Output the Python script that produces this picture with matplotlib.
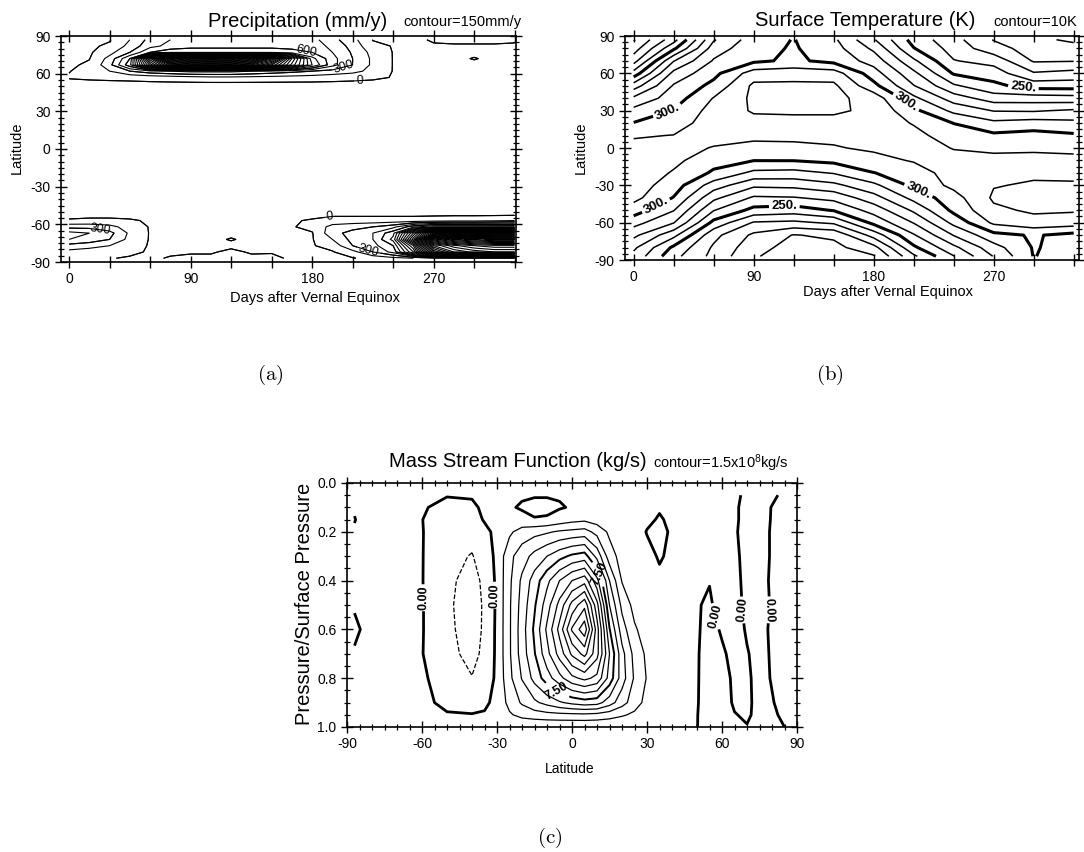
import numpy as np
import matplotlib
matplotlib.use("Agg")
import matplotlib.pyplot as plt
from matplotlib.ticker import MultipleLocator

plt.rcParams['font.family'] = ['Liberation Sans', 'DejaVu Sans']
plt.rcParams['mathtext.fontset'] = 'cm'
plt.rcParams['mathtext.default'] = 'regular'
plt.rcParams['axes.unicode_minus'] = False

# ---------------- (a) precipitation, mm/y ----------------
precip_days = [0, 15, 30, 45, 60, 75, 90, 105, 120, 135, 150, 165, 180, 195, 210, 225, 240, 255, 270, 285, 300, 315, 330]
precip_lats = [-87, -82, -77, -72, -67, -62, -57, -52, 52, 57, 62, 67, 72, 77, 82, 87]
pr_s87 = [20, 10, 5, -10, -10, 5, 10, 10, 10, 10, 15, -10, -10, -10, -10, 50, 100, 150, 200, 200, 200, 200, 200]
pr_s82 = [100, 80, 60, 20, -10, -10, -5, -5, 10, -5, -5, -10, -10, -10, 100, 300, 500, 1200, 3000, 3600, 3800, 3900, 3900]
pr_s77 = [250, 200, 150, 50, -10, -10, -10, -10, -10, -10, -10, -10, -10, 50, 300, 400, 600, 1500, 3600, 4000, 4200, 4300, 4300]
pr_s72 = [450, 400, 300, 100, -10, -10, -10, -10, 3, -10, -10, -10, -10, 150, 350, 450, 800, 2200, 4600, 5000, 5200, 5300, 5300]
pr_s67 = [500, 450, 350, 120, -10, -10, -10, -10, -10, -10, -10, -10, -10, 250, 350, 450, 700, 1800, 3000, 3200, 3300, 3400, 3400]
pr_s62 = [250, 250, 200, 80, -10, -10, -10, -10, -10, -10, -10, -10, 40, 200, 250, 300, 400, 700, 900, 900, 900, 900, 900]
pr_s57 = [10, 20, 20, 10, -10, -10, -10, -10, -10, -10, -10, -10, 10, 60, 60, 60, 60, 60, 80, 100, 100, 120, 150]
pr_s52 = [-30] * 23
pr_n52 = [-30] * 23
pr_n57 = [8, 20, 30, 40, 60, 80, 100, 120, 120, 110, 100, 90, 80, 60, 40, 20, -5, -20, -20, -20, -20, -20, -20]
pr_n62 = [-4, 40, 150, 300, 400, 450, 500, 500, 500, 450, 400, 350, 300, 250, 200, 100, -5, -20, -20, -20, -20, -20, -20]
pr_n67 = [-20, 20, 250, 700, 2000, 3000, 3200, 3300, 3200, 3000, 2400, 1600, 900, 500, 300, 120, -5, -20, -20, -20, -20, -20, -20]
pr_n72 = [-20, -5, 200, 600, 2500, 4200, 4600, 4700, 4600, 4200, 3200, 1800, 800, 500, 300, 120, -5, -20, -20, -20, 5, -20, -20]
pr_n77 = [-20, -20, 100, 300, 600, 700, 700, 700, 700, 700, 700, 650, 600, 450, 280, 100, -5, -20, -20, -20, -20, -20, -20]
pr_n82 = [-20, -20, 20, 200, 400, 500, 550, 550, 550, 550, 550, 550, 550, 400, 250, 30, -5, -20, -10, -10, -10, -10, -10]
pr_n87 = [-20, -20, -10, 150, 350, 450, 500, 500, 500, 500, 500, 500, 500, 350, 200, -5, -10, -20, 10, 20, 20, 20, 10]
precip = np.array([pr_s87, pr_s82, pr_s77, pr_s72, pr_s67, pr_s62, pr_s57, pr_s52,
                   pr_n52, pr_n57, pr_n62, pr_n67, pr_n72, pr_n77, pr_n82, pr_n87], dtype=float)
precip_levels = list(range(0, 5400, 150))
precip_label_levels = [0, 300, 600]

# ---------------- (b) surface temperature, K ----------------
temp_days = [0, 30, 60, 90, 120, 150, 180, 210, 240, 270, 300, 330]
temp_lats = [-87, -80, -70, -60, -50, -40, -30, -20, -10, 0, 10, 20, 30, 40, 50, 60, 70, 80, 87]
t_s87 = [267, 243, 227, 211, 205, 205.5, 209, 238, 259.5, 280.5, 300.4, 295]
t_s80 = [272, 248, 228.5, 214, 206, 207, 216.5, 248, 267.5, 286, 300.8, 296]
t_s70 = [282.6, 263, 233, 218, 209.5, 212, 234, 259, 280.5, 297, 301, 297]
t_s60 = [293.8, 280.5, 247, 229, 227.7, 231.7, 252.7, 270.5, 292.8, 312, 316.5, 315]
t_s50 = [305, 290.5, 260.5, 247, 245, 250.7, 264, 281.8, 302.5, 318, 321.5, 321]
t_s40 = [313, 299.5, 272.5, 258.5, 259.3, 263, 276, 293.2, 306, 321.5, 322.5, 322]
t_s30 = [315, 305, 285, 272, 272.7, 277.3, 287.6, 302.5, 312.5, 319.5, 321, 321]
t_s20 = [317, 309, 298.5, 287.5, 286.7, 290.7, 299.8, 304, 315.5, 318.5, 318.5, 318]
t_s10 = [316, 312.5, 303.5, 300.2, 300.3, 302.5, 306, 311, 313.5, 313, 314.5, 313]
t_eq = [313, 313, 309.5, 307.5, 307, 309, 312, 315, 309.5, 307.8, 307.5, 307.2]
t_n10 = [309, 310.3, 313, 312, 313, 313, 314, 313, 305, 302, 303.5, 301.5]
t_n20 = [300.4, 305, 315.5, 317, 317, 317, 316, 309.3, 299.8, 292.5, 294.5, 292.7]
t_n30 = [293, 300.5, 314, 321, 321.5, 321.5, 318, 302.5, 287.5, 279.5, 279, 281.5]
t_n40 = [282, 295, 310.5, 322, 323, 322.5, 316, 292.5, 275, 265, 265, 264]
t_n50 = [265, 291, 303, 322, 322, 322, 303, 280.5, 261.5, 252.5, 245.6, 245.5]
t_n60 = [244, 283, 297, 315, 316, 315, 294.5, 272.5, 249, 245, 231, 233.5]
t_n70 = [226, 269.5, 291, 298, 302, 297, 286, 262, 240.5, 236.5, 219, 219.5]
t_n80 = [215, 248, 285, 296.5, 301, 294, 278, 250.5, 236, 224, 215.5, 213]
t_n87 = [209, 236, 279, 295, 300.4, 292, 271, 246, 233.5, 219.5, 212, 208.5]
temp = np.array([t_s87, t_s80, t_s70, t_s60, t_s50, t_s40, t_s30, t_s20, t_s10, t_eq,
                 t_n10, t_n20, t_n30, t_n40, t_n50, t_n60, t_n70, t_n80, t_n87], dtype=float)
temp_thin_levels = [210, 220, 230, 240, 260, 270, 280, 290, 310, 320]
temp_bold_levels = [250, 300]

# ---------------- (c) mass stream function, 1e8 kg/s ----------------
psi_lats = [-87, -80, -70, -60, -50, -40, -35, -30, -25, -20, -15, -10, -5, 0, 5, 10, 15,
            20, 25, 30, 35, 40, 50, 55, 60, 65, 70, 75, 80, 87]
psi_p = [0.05, 0.1, 0.15, 0.2, 0.3, 0.4, 0.5, 0.6, 0.7, 0.8, 0.9, 0.95, 1.0]
psi_005 = [0.1, 0.1, 0.1, 0.1, 0.05, 0.05, 0.1] + [0.1] * 14 + [0.2, 0.2, 0.2, 0.2, 0.1, -0.1, -0.2, -0.1, 0.2]
psi_010 = [0.05, 0.2, 0.2, 0.1, -0.3, -0.1, 0.1] + [0.2, 0.1, -0.1, -0.4, -0.4, -0.1, 0.1, 0.15, 0.2, 0.2, 0.2, 0.2, 0.2, 0.1] + [0.2, 0.2, 0.2, 0.2, 0.05, -0.1, -0.2, 0.02, 0.2]
psi_015 = [-0.02, 0.3, 0.2, 0.02, -0.6, -0.5, 0.1] + [0.3, 0.4, 0.3, 0.1, 0.2, 0.6, 1.0, 1.2, 0.8, 0.5, 0.4, 0.4, 0.2, -0.1] + [0.2, 0.2, 0.2, 0.18, 0.05, -0.1, -0.2, 0.03, 0.2]
psi_020 = [0.05, 0.3, 0.2, 0.05, -0.8, -0.9, -0.3] + [0.3, 1.2, 2.2, 2.5, 2.8, 3.2, 3.4, 3.6, 2.5, 1.2, 0.6, 0.5, -0.05, -0.4] + [0.2, 0.2, 0.2, 0.15, 0.04, -0.12, -0.2, 0.05, 0.2]
psi_030 = [0.1, 0.3, 0.2, 0.05, -1.0, -1.6, -0.7] + [0.3, 2.6, 3.8, 5.0, 6.0, 7.0, 7.8, 8.2, 5.5, 2.2, 0.9, 0.6, 0.3, -0.1] + [0.2, 0.15, 0.15, 0.15, 0.08, -0.12, -0.2, 0.05, 0.2]
psi_040 = [0.1, 0.3, 0.2, 0.05, -1.2, -2.0, -1.2] + [0.3, 2.7, 4.8, 6.7, 8.6, 10.5, 12.0, 12.9, 9.5, 4.5, 1.4, 0.8, 0.5, 0.2] + [0.2, 0.02, 0.03, 0.1, 0.1, -0.1, -0.2, 0.08, 0.2]
psi_050 = [0.05, 0.3, 0.2, 0.08, -1.25, -2.2, -1.3] + [0.25, 2.8, 5.1, 7.3, 9.8, 12.5, 15.5, 17.6, 12.5, 6.0, 2.6, 1.0, 0.6, 0.3] + [0.2, 0.05, -0.1, 0.3, 0.15, -0.1, -0.2, 0.05, 0.2]
psi_060 = [-0.1, 0.2, 0.2, 0.08, -1.2, -2.1, -1.3] + [0.3, 2.8, 5.3, 7.8, 10.8, 14.0, 18.2, 20.5, 14.2, 7.6, 3.7, 1.7, 0.8, 0.5] + [0.2, 0.04, -0.12, 0.04, 0.2, -0.05, -0.2, 0.1, 0.2]
psi_070 = [0.05, 0.3, 0.2, 0.05, -1.1, -1.9, -1.2] + [0.3, 2.8, 5.2, 7.4, 10.0, 12.6, 15.3, 17.0, 14.0, 9.0, 5.0, 2.5, 1.2, 0.6] + [0.2, 0.03, -0.15, -0.05, 0.1, 0.03, -0.15, 0.05, 0.2]
psi_080 = [0.1, 0.3, 0.3, 0.25, -0.8, -1.45, -0.9] + [0.3, 2.6, 4.6, 6.5, 8.3, 10.0, 11.6, 12.4, 11.6, 8.4, 5.2, 2.8, 1.4, 0.6] + [0.2, 0.025, -0.15, -0.1, 0.05, 0.05, -0.1, 0.02, 0.2]
psi_090 = [0.1, 0.3, 0.3, 0.3, -0.3, -0.5, -0.2] + [0.3, 2.0, 3.2, 4.2, 5.0, 5.8, 6.4, 6.8, 6.6, 5.2, 3.6, 2.2, 1.0, 0.5] + [0.2, 0.02, -0.15, -0.1, 0.03, 0.05, -0.08, -0.02, 0.15]
psi_095 = [0.1, 0.2, 0.3, 0.3, 0.1, 0.05, 0.1] + [0.5, 1.3, 2.0, 2.3, 2.5, 2.6, 2.65, 2.7, 2.55, 2.2, 1.7, 1.2, 0.7, 0.4] + [0.2, 0.01, -0.15, -0.1, -0.01, 0.03, -0.06, -0.05, 0.1]
psi_100 = [0.1] * 7 + [0.1] * 14 + [0.2, 0.005, -0.1, -0.1, -0.05, -0.01, -0.05, -0.05, 0.02]
psi = np.array([psi_005, psi_010, psi_015, psi_020, psi_030, psi_040, psi_050,
                psi_060, psi_070, psi_080, psi_090, psi_095, psi_100], dtype=float)
psi_pos_levels = [1.5, 3.0, 4.5, 6.0, 9.0, 10.5, 12.0, 13.5, 15.0, 16.5, 18.0, 19.5]
psi_label_level = [7.5]

# ---------------- figure ----------------
W, H = 1084, 852
fig = plt.figure(figsize=(W / 100, H / 100), dpi=100)


def axes_px(l, t, r, b):
    return fig.add_axes([l / W, 1 - b / H, (r - l) / W, (b - t) / H])


def ftext(x, y, s, **kw):
    kw.setdefault('ha', 'center')
    kw.setdefault('va', 'baseline')
    return fig.text(x / W, 1 - y / H, s, **kw)


def style(ax):
    ax.tick_params(which='major', direction='inout', length=9, width=1.0,
                   top=True, right=True, labelsize=10, pad=3)
    ax.tick_params(which='minor', direction='inout', length=5, width=0.9,
                   top=True, right=True)
    for s in ax.spines.values():
        s.set_linewidth(1.2)


day_ticks = [0, 30, 60, 90, 120, 150, 180, 210, 240, 270, 300, 330]
day_labels = ['0', '', '', '90', '', '', '180', '', '', '270', '', '']
lat_ticks = [-90, -60, -30, 0, 30, 60, 90]

# (a)
axa = axes_px(61, 36, 516, 262)
axa.contour(precip_days, precip_lats, precip, levels=precip_levels, colors='k', linewidths=0.8)
csa = axa.contour(precip_days, precip_lats, precip, levels=precip_label_levels, colors='k', linewidths=0.8)
axa.clabel(csa, fmt='%d', fontsize=9, inline=True, inline_spacing=2,
           manual=[(176, 80), (203, 67), (215, 54.5), (193, -56), (224, -74), (23, -67.6)])
axa.set_xlim(-6, 331)
axa.set_ylim(-90, 90)
axa.set_xticks(day_ticks)
axa.set_xticklabels(day_labels)
axa.set_yticks(lat_ticks)
axa.yaxis.set_minor_locator(MultipleLocator(5))
style(axa)

# (b)
axb = axes_px(625, 36, 1079, 260)
axb.contour(temp_days, temp_lats, temp, levels=temp_thin_levels, colors='k', linewidths=1.1)
csb = axb.contour(temp_days, temp_lats, temp, levels=temp_bold_levels, colors='k', linewidths=2.2)
axb.clabel(csb, fmt='%d.', fontsize=9.5, inline=True, inline_spacing=3,
           manual=[(25, 31), (205, 38), (17, -47), (212, -38), (292, 46), (113, -47)])
for t in csb.labelTexts:
    t.set_fontweight('bold')
axb.set_xlim(-6.5, 334)
axb.set_ylim(-90, 90)
axb.set_xticks(day_ticks)
axb.set_xticklabels(day_labels)
axb.set_yticks(lat_ticks)
axb.yaxis.set_minor_locator(MultipleLocator(5))
style(axb)

# (c)
axc = axes_px(347, 483, 797, 727)
axc.contour(psi_lats, psi_p, psi, levels=[-1.5], colors='k', linewidths=0.9, linestyles='--')
axc.contour(psi_lats, psi_p, psi, levels=psi_pos_levels, colors='k', linewidths=0.9)
cs75 = axc.contour(psi_lats, psi_p, psi, levels=psi_label_level, colors='k', linewidths=1.4)
csz = axc.contour(psi_lats, psi_p, psi, levels=[0], colors='k', linewidths=2.0, linestyles='-')
axc.clabel(csz, fmt='%.2f', fontsize=9, inline=True, inline_spacing=2,
           manual=[(-58.5, 0.47), (-31.5, 0.46), (56, 0.55), (68.5, 0.52), (79, 0.52)])
axc.clabel(cs75, fmt='%.2f', fontsize=9, inline=True, inline_spacing=2,
           manual=[(-8, 0.88), (11.5, 0.37)])
for t in csz.labelTexts + cs75.labelTexts:
    t.set_fontweight('bold')
axc.set_xlim(-90, 90)
axc.set_ylim(1.0, 0.0)
axc.set_xticks([-90, -60, -30, 0, 30, 60, 90])
axc.set_yticks([0.0, 0.2, 0.4, 0.6, 0.8, 1.0])
axc.xaxis.set_minor_locator(MultipleLocator(5))
axc.yaxis.set_minor_locator(MultipleLocator(0.05))
style(axc)

# titles and labels
ftext(298, 27, 'Precipitation (mm/y)', fontsize=14.5)
ftext(522, 26, 'contour=150mm/y', ha='right', fontsize=10.5)
ftext(865, 26, 'Surface Temperature (K)', fontsize=14.5)
ftext(1077, 26, 'contour=10K', ha='right', fontsize=10.5)
ftext(518, 467, 'Mass Stream Function (kg/s)', fontsize=14.5)
ftext(789, 468, r'contour=1.5x10$^{8}$kg/s', ha='right', fontsize=10.5)

ftext(17, 148, 'Latitude', rotation=90, va='center', fontsize=10.5)
ftext(581, 148, 'Latitude', rotation=90, va='center', fontsize=10.5)
ftext(305, 604, 'Pressure/Surface Pressure', rotation=90, va='center', fontsize=14.5)
ftext(315, 298.5, 'Days after Vernal Equinox', va='center', fontsize=10.5)
ftext(888, 292.5, 'Days after Vernal Equinox', va='center', fontsize=10.5)
ftext(570, 769, 'Latitude', va='center', fontsize=10)

ftext(270, 375, r'$\mathrm{(a)}$', va='center', fontsize=15)
ftext(830, 375, r'$\mathrm{(b)}$', va='center', fontsize=15)
ftext(550, 838, r'$\mathrm{(c)}$', va='center', fontsize=15)

fig.savefig('out.png', dpi=100)
